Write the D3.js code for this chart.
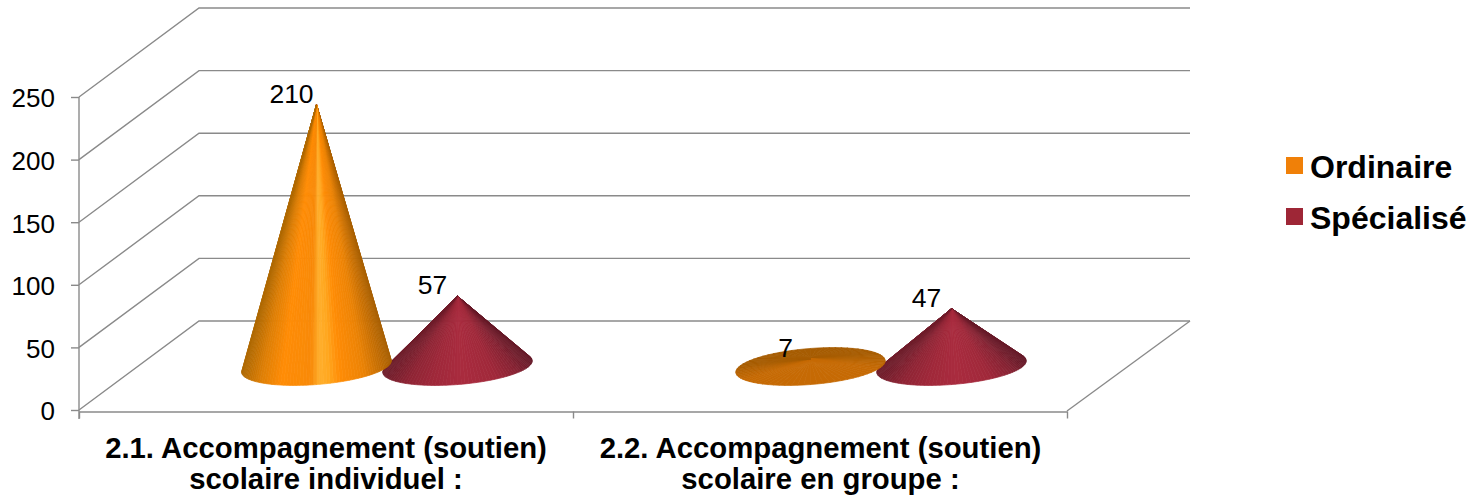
<!DOCTYPE html>
<html>
<head>
<meta charset="utf-8">
<script src="https://cdnjs.cloudflare.com/ajax/libs/d3/7.8.5/d3.min.js"></script>
<style>
  html, body { margin: 0; padding: 0; background: #fff; }
  svg { display: block; }
  text { font-family: "Liberation Sans", Arial, sans-serif; fill: #000; }
</style>
</head>
<body>
<svg id="chart" width="1483" height="496"></svg>
<script>
// Chart content
const categories = ["2.1. Accompagnement (soutien) scolaire individuel :", "2.2. Accompagnement (soutien) scolaire en groupe :"];
const categoryLines = [
  ["2.1. Accompagnement (soutien)", "scolaire individuel :"],
  ["2.2. Accompagnement (soutien)", "scolaire en groupe :"]
];
const seriesNames = ["Ordinaire", "Spécialisé"];
const ordinaire = [210, 7];
const specialise = [57, 47];
const yTicks = [0, 50, 100, 150, 200, 250];

// Series colours
const legendColors = ["#f08008", "#9e2636"];
const shadeOrange = [[-1, "#b06a04"], [-0.78, "#dc7e06"], [-0.5, "#ff8c06"], [-0.1, "#f88a08"], [0.02, "#ffb02e"], [0.14, "#ffa820"], [0.3, "#ff8c06"], [0.62, "#ec8306"], [1, "#a86004"]];
const shadeRed = [[-1, "#6e1c2a"], [-0.7, "#8e2434"], [-0.35, "#a0283a"], [0.05, "#a92b3e"], [0.5, "#a0283a"], [0.8, "#862333"], [1, "#661a28"]];
const discShade = ["#a65c02", "#c66a04"];

// Plot frame
const floorFront = 410, depthX = 120, depthY = -89;
const svg = d3.select("#chart");
const y = d3.scaleLinear().domain([0, 250]).range([floorFront, 97]);
const xEdge = d3.scaleLinear().domain([0, categories.length]).range([79, 1067]);
const x0 = d3.scaleBand().domain(categories).range([79, 1067]);
const x1 = d3.scaleBand().domain(seriesNames).range([-141, 141]);
const grey = "#8a8a8a";

// Back-wall grid and side-wall diagonals
const grid = svg.append("g").attr("fill", "none").attr("stroke", grey).attr("stroke-width", 1.4);
grid.selectAll("path.wall").data(yTicks).join("path").attr("class", "wall")
  .attr("d", v => d3.line()([[79, y(v)], [79 + depthX, y(v) + depthY], [xEdge.range()[1] + depthX + 3, y(v) + depthY]]));
grid.append("path")
  .attr("d", d3.line()([[xEdge.range()[1], y(0) + 1], [xEdge.range()[1] + depthX + 3, y(0) + depthY]]));

// Axes
const yAxis = svg.append("g").attr("transform", "translate(79,0)")
  .call(d3.axisLeft(y).tickValues(yTicks).tickSize(8).tickSizeOuter(0).tickPadding(16));
const xAxis = svg.append("g").attr("transform", `translate(0,${floorFront + 1.5})`)
  .call(d3.axisBottom(xEdge).tickValues(d3.range(categories.length + 1)).tickSize(7).tickSizeOuter(0).tickFormat(""));
[yAxis, xAxis].forEach(a => {
  a.selectAll("path.domain, line").attr("stroke", grey).attr("stroke-width", 1.4);
});
yAxis.select("path.domain").attr("d", d3.line()([[0, 97], [0, 419]]));
yAxis.selectAll("text").attr("font-size", 26).attr("y", 1.5).attr("font-family", '"Liberation Sans", Arial, sans-serif').attr("fill", "#000");

// Category labels
svg.append("g").selectAll("text").data(categories).join("text")
  .attr("text-anchor", "middle")
  .attr("font-size", 29.3)
  .attr("font-weight", "bold")
  .each(function (c, i) {
    d3.select(this).selectAll("tspan").data(categoryLines[i]).join("tspan")
      .attr("x", x0(c) + x0.bandwidth() / 2 + (i ? 0.5 : 0))
      .attr("y", (_, k) => 458 + k * 31)
      .text(t => t);
  });

// Cones: a fan of facets from the apex to the tilted base ellipse
const baseA = 75, baseB = 18, tilt = -4.6 * Math.PI / 180, baseCy = floorFront - 43.5;
const cosT = Math.cos(tilt), sinT = Math.sin(tilt);
const rampColor = ramp => d3.scaleLinear().domain(ramp.map(d => d[0])).range(ramp.map(d => d[1]))
  .interpolate(d3.interpolateRgb).clamp(true);
function drawCone(g, cx, value, ramp) {
  const h = y(0) - y(value);
  const apex = [cx, baseCy + 1 - h];
  const rim = t => {
    const lx = baseA * Math.cos(t), ly = baseB * Math.sin(t);
    return [cx + lx * cosT - ly * sinT, baseCy + lx * sinT + ly * cosT];
  };
  const ax = apex[0] - cx, ay = apex[1] - baseCy;
  const u = (ax * cosT + ay * sinT) / baseA, v = (-ax * sinT + ay * cosT) / baseB;
  const r = Math.hypot(u, v), phi = Math.atan2(v, u);
  const inside = r <= 1;
  const alpha = inside ? 0 : Math.acos(1 / r);
  const start = phi + alpha, sweep = 2 * Math.PI - 2 * alpha;
  const n = 72;
  const ramped = rampColor(ramp);
  const shadeAt = inside
    ? t => d3.interpolateRgb(discShade[0], discShade[1])(Math.min(1, Math.max(0, 0.5 + Math.sin(t) * 1.1)))
    : t => ramped(Math.cos(t));
  d3.range(n).forEach(i => {
    const t0 = start + sweep * i / n, t1 = start + sweep * (i + 1) / n;
    const c = shadeAt((t0 + t1) / 2);
    g.append("path")
      .attr("d", d3.line()([apex, rim(t0), rim(t1)]) + "Z")
      .attr("fill", c).attr("stroke", c).attr("stroke-width", 0.7).attr("stroke-linejoin", "round");
  });
}

const seriesValues = [ordinaire, specialise];
const ramps = [shadeOrange, shadeRed];
const coneX = (c, name) => x0(c) + x0.bandwidth() / 2 + x1(name) + x1.bandwidth() / 2 + depthX / 2 + 1;

// Right-hand cone of each pair goes underneath its neighbour
const cones = svg.append("g");
[1, 0].forEach(si => {
  categories.forEach((c, ci) => {
    drawCone(cones.append("g"), coneX(c, seriesNames[si]), seriesValues[si][ci], ramps[si]);
  });
});

// Value labels
const labels = svg.append("g").attr("text-anchor", "middle").attr("font-size", 26.5);
seriesNames.forEach((name, si) => {
  labels.selectAll(null).data(seriesValues[si]).join("text")
    .attr("x", (_, ci) => coneX(categories[ci], name) - 25)
    .attr("y", d => baseCy + 1 - (y(0) - y(d)) - 2)
    .text(d => d);
});

// Legend
const legend = svg.append("g").selectAll("g").data(seriesNames).join("g")
  .attr("transform", (_, i) => `translate(1286,${157 + i * 51})`);
legend.append("rect").attr("width", 17).attr("height", 17).attr("fill", (_, i) => legendColors[i]);
legend.append("text").attr("x", 24).attr("y", 20.5).attr("font-size", 32).attr("font-weight", "bold").text(d => d);
</script>
</body>
</html>
